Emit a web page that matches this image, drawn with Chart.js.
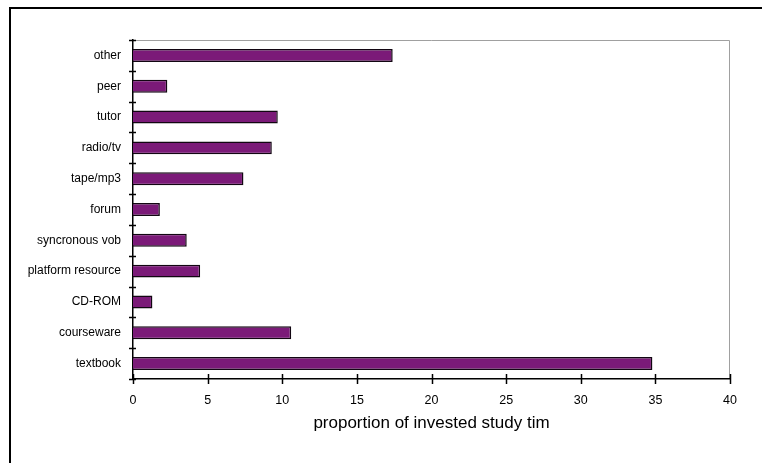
<!DOCTYPE html>
<html>
<head>
<meta charset="utf-8">
<script src="https://cdn.jsdelivr.net/npm/chart.js@4.4.1/dist/chart.umd.min.js"></script>
<style>
html,body{margin:0;padding:0;background:#fff;}
#wrap{width:762px;height:463px;position:relative;}
</style>
</head>
<body>
<div id="wrap"><canvas id="c" width="762" height="463"></canvas></div>
<script>
const categories = ["other","peer","tutor","radio/tv","tape/mp3","forum","syncronous vob","platform resource","CD-ROM","courseware","textbook"];
const values = [17.4, 2.3, 9.7, 9.3, 7.4, 1.8, 3.6, 4.5, 1.3, 10.6, 34.8];
const xTickStep = 5;
const xMin = 0, xMax = 40;
const xTitle = "proportion of invested study tim";

const decor = {
  id: 'decor',
  beforeDraw(chart) {
    const ctx = chart.ctx;
    ctx.save();
    ctx.fillStyle = '#fff';
    ctx.fillRect(0, 0, chart.width, chart.height);
    ctx.strokeStyle = '#000';
    ctx.lineWidth = 2;
    ctx.strokeRect(10, 8, chart.width + 20, chart.height + 20);
    const a = chart.chartArea;
    ctx.strokeStyle = '#a0a0a0';
    ctx.lineWidth = 1;
    ctx.beginPath();
    ctx.moveTo(a.left, Math.round(a.top) + 0.5);
    ctx.lineTo(Math.round(a.right) - 0.5, Math.round(a.top) + 0.5);
    ctx.lineTo(Math.round(a.right) - 0.5, a.bottom);
    ctx.stroke();
    ctx.restore();
  },
  afterDraw(chart) {
    const ctx = chart.ctx;
    const xs = chart.scales.x, ys = chart.scales.y;
    const a = chart.chartArea;
    ctx.save();
    ctx.strokeStyle = '#000';
    ctx.lineWidth = 1.5;
    xs.ticks.forEach(t => {
      const px = Math.round(xs.getPixelForValue(t.value)) + 0.5;
      ctx.beginPath();
      ctx.moveTo(px, a.bottom - 5);
      ctx.lineTo(px, a.bottom + 5);
      ctx.stroke();
    });
    const n = categories.length;
    const band = (ys.getPixelForValue(n - 1) - ys.getPixelForValue(0)) / (n - 1);
    for (let i = 0; i <= n; i++) {
      const py = Math.round(ys.getPixelForValue(i) - band / 2) + 0.5;
      ctx.beginPath();
      ctx.moveTo(a.left - 4, py);
      ctx.lineTo(a.left + 3, py);
      ctx.stroke();
    }
    ctx.restore();
  }
};

new Chart(document.getElementById('c'), {
  type: 'bar',
  data: {
    labels: categories,
    datasets: [{
      data: values,
      backgroundColor: '#7b1a78',
      borderColor: '#120612',
      borderWidth: 1.5,
      borderSkipped: 'start',
      barPercentage: 0.42,
      categoryPercentage: 1
    }]
  },
  options: {
    indexAxis: 'y',
    responsive: false,
    animation: false,
    devicePixelRatio: 1,
    layout: { padding: { left: 0, top: 40, right: 32, bottom: 25 } },
    plugins: { legend: { display: false }, tooltip: { enabled: false } },
    scales: {
      x: {
        type: 'linear',
        min: xMin, max: xMax,
        afterFit(s) { s.height = 59; },
        grid: { display: false, drawTicks: false },
        border: { display: true, color: '#000', width: 1.5 },
        ticks: { stepSize: xTickStep, color: '#000', padding: 14, maxRotation: 0,
                 font: { family: 'Liberation Sans', size: 12.5 } },
        title: { display: true, text: xTitle, color: '#000',
                 font: { family: 'Liberation Sans', size: 17 }, padding: { top: 4, bottom: 4 } }
      },
      y: {
        afterFit(s) { s.width = 133; },
        grid: { display: false, drawTicks: false },
        border: { display: true, color: '#000', width: 1.5 },
        ticks: { color: '#000', padding: 12, autoSkip: false,
                 font: { family: 'Liberation Sans', size: 12 } }
      }
    }
  },
  plugins: [decor]
});
</script>
</body>
</html>
